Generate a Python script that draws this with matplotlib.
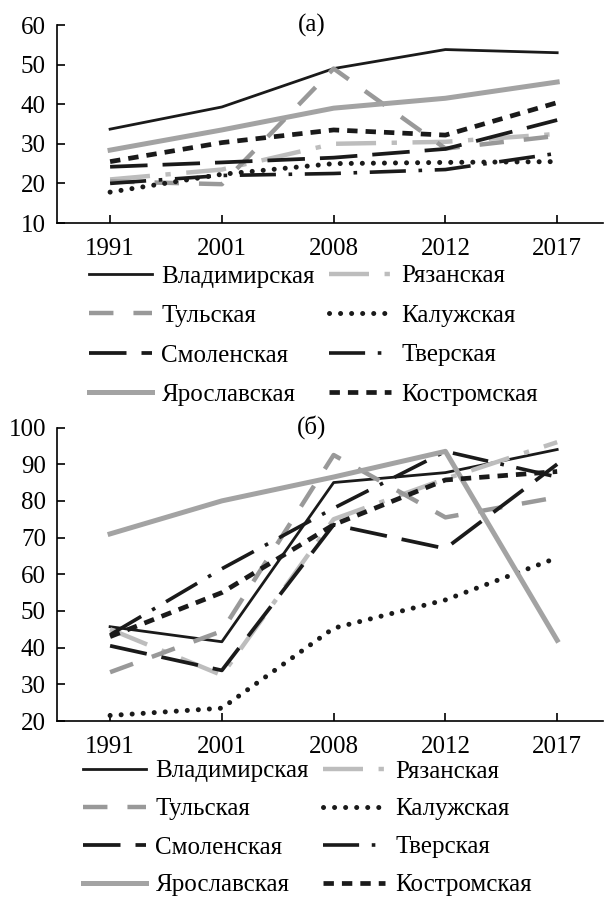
import matplotlib
matplotlib.use("Agg")
import matplotlib.pyplot as plt
import numpy as np

plt.rcParams['font.family'] = ['Liberation Serif', 'DejaVu Serif']

years = ['1991', '2001', '2008', '2012', '2017']

# (a)
a_vladimir = [33.7, 39.3, 49.0, 53.8, 53.0]
a_ryazan = [21.0, 23.5, 30.0, 30.5, 32.5]
a_tula = [20.5, 19.8, 49.0, 28.8, 32.0]
a_kaluga = [17.8, 22.3, 25.0, 25.3, 25.5]
a_smolensk = [24.2, 25.3, 26.5, 28.7, 36.0]
a_tver = [20.0, 22.0, 22.5, 23.5, 27.6]
a_yaroslavl = [28.4, 33.5, 39.0, 41.5, 45.6]
a_kostroma = [25.5, 30.3, 33.5, 32.2, 40.4]

# (б)
b_vladimir = [45.7, 41.6, 85.0, 87.7, 94.0]
b_ryazan = [45.0, 32.5, 75.0, 86.0, 96.0]
b_tula = [33.3, 44.5, 92.5, 75.5, 81.0]
b_kaluga = [21.5, 23.5, 45.3, 53.0, 64.5]
b_smolensk = [40.5, 33.8, 73.5, 67.0, 90.0]
b_tver = [43.5, 61.5, 78.0, 93.5, 86.5]
b_yaroslavl = [71.0, 80.0, 86.5, 93.5, 42.0]
b_kostroma = [43.0, 55.0, 73.5, 85.7, 88.0]

names = ['Владимирская', 'Рязанская', 'Тульская', 'Калужская',
         'Смоленская', 'Тверская', 'Ярославская', 'Костромская']

# line styles per region
styles = {
    'Владимирская': dict(color='#1a1a1a', lw=2.0, ls='-'),
    'Рязанская': dict(color='#bdbdbd', lw=3.2, ls=(0, (9, 3.5, 1.2, 3.5))),
    'Тульская': dict(color='#999999', lw=3.2, ls=(0, (5.5, 4.5))),
    'Калужская': dict(color='#1a1a1a', lw=3.6, ls=(0, (0.01, 2.2)), dash_capstyle='round'),
    'Смоленская': dict(color='#1a1a1a', lw=2.7, ls=(0, (10, 4))),
    'Тверская': dict(color='#1a1a1a', lw=2.6, ls=(0, (10, 3.5, 1, 3.5))),
    'Ярославская': dict(color='#a3a3a3', lw=3.6, ls='-'),
    'Костромская': dict(color='#1a1a1a', lw=3.4, ls=(0, (2.2, 1.7))),
}

FS = 18
W, H = 605, 899
fig = plt.figure(figsize=(W / 100, H / 100), dpi=100)


def draw_panel(rect, series, ylim, yticks, title, leg_xy, spacing):
    ax = fig.add_axes(rect)
    x = np.arange(len(years))
    handles = {}
    for name, vals in zip(names, series):
        st = dict(styles[name])
        ls = st.pop('ls')
        line, = ax.plot(x, vals, linestyle=ls, **st)
        handles[name] = line
    ax.set_xlim(-0.475, 4.41)
    ax.set_ylim(*ylim)
    ax.set_yticks(yticks)
    ax.set_xticks(x)
    ax.set_xticklabels(years)
    ax.spines['top'].set_visible(False)
    ax.spines['right'].set_visible(False)
    for s in ('left', 'bottom'):
        ax.spines[s].set_linewidth(1.2)
    ax.tick_params(direction='in', length=6, width=1.2, labelsize=FS)
    ax.tick_params(axis='x', pad=11)
    ax.tick_params(axis='y', pad=8)
    ax.text(0.467, 1.0, title, transform=ax.transAxes, ha='center',
            va='center', fontsize=FS)
    # legend in two columns, filled row by row as in the picture
    order = [names[0], names[2], names[4], names[6],
             names[1], names[3], names[5], names[7]]
    fig.legend([handles[n] for n in order], order, ncol=2,
               loc='upper left', bbox_to_anchor=leg_xy, frameon=False,
               fontsize=FS, handlelength=2.5, handletextpad=0.4,
               columnspacing=0.55, labelspacing=spacing, borderpad=0,
               borderaxespad=0)
    return ax


px = lambda l, t, r, b: [l / W, 1 - b / H, (r - l) / W, (b - t) / H]

draw_panel(px(57, 25, 603, 223),
           [a_vladimir, a_ryazan, a_tula, a_kaluga, a_smolensk, a_tver,
            a_yaroslavl, a_kostroma],
           (10, 60), [10, 20, 30, 40, 50, 60], '(a)',
           (89 / W, 1 - 265 / H), 0.68)

draw_panel(px(57, 427.5, 603, 721),
           [b_vladimir, b_ryazan, b_tula, b_kaluga, b_smolensk, b_tver,
            b_yaroslavl, b_kostroma],
           (20, 100), [20, 30, 40, 50, 60, 70, 80, 90, 100], '(б)',
           (83 / W, 1 - 760 / H), 0.62)

fig.savefig('out.png', dpi=100)
